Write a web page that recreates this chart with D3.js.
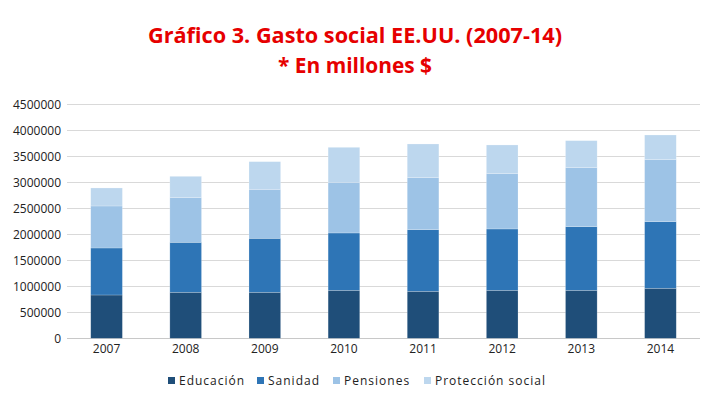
<!DOCTYPE html>
<html><head><meta charset="utf-8">
<script src="https://cdn.jsdelivr.net/npm/d3@7"></script>
<style>body{margin:0;background:#fff}svg{display:block}</style>
</head><body>
<div id="chart"></div>
<script>
const years = ["2007","2008","2009","2010","2011","2012","2013","2014"];
const seriesNames = ["Educación","Sanidad","Pensiones","Protección social"];
const educacion  = [833000, 885000, 885000, 923000, 904000, 923000, 923000, 962000];
const sanidad    = [904000, 961000, 1038000, 1103000, 1186000, 1180000, 1224000, 1282000];
const pensiones  = [808000, 859000, 942000, 974000, 1000000, 1064000, 1135000, 1192000];
const proteccion = [346000, 410000, 532000, 673000, 647000, 551000, 519000, 474000];
const yTicks = [0,500000,1000000,1500000,2000000,2500000,3000000,3500000,4000000,4500000];
const colors = ["#1F4E79","#2E75B6","#9DC3E6","#BDD7EE"];

const W=708,H=398;
const m={left:67,right:8,top:104,bottom:60};
const svg=d3.select("#chart").append("svg").attr("width",W).attr("height",H);
const font="'Open Sans', sans-serif";

const rows = years.map((y,i)=>({year:y,"Educación":educacion[i],"Sanidad":sanidad[i],"Pensiones":pensiones[i],"Protección social":proteccion[i]}));
const stacked = d3.stack().keys(seriesNames)(rows);

const x=d3.scaleBand().domain(years).range([m.left,W-m.right]).paddingInner(0.6).paddingOuter(0.3);
const y=d3.scaleLinear().domain([0,4500000]).range([338.3,104.3]);

// gridlines
svg.append("g").selectAll("line").data(yTicks).join("line")
  .attr("x1",m.left).attr("x2",W-m.right)
  .attr("y1",d=>Math.round(y(d))+0.5).attr("y2",d=>Math.round(y(d))+0.5)
  .attr("stroke",d=>d===0?"#C8C8C8":"#D9D9D9").attr("stroke-width",1);

// y labels
const yAxis=d3.axisLeft(y).tickValues(yTicks).tickFormat(d3.format("d")).tickSize(0).tickPadding(6);
const ga=svg.append("g").attr("transform",`translate(${m.left},0)`).call(yAxis);
ga.select(".domain").remove();
ga.selectAll("text").attr("font-family",font).attr("font-size","12px").attr("fill","#222");

// bars
svg.append("g").selectAll("g").data(stacked).join("g").attr("fill",(d,i)=>colors[i])
  .selectAll("rect").data(d=>d).join("rect")
  .attr("x",d=>x(d.data.year)).attr("width",x.bandwidth())
  .attr("y",d=>y(d[1])).attr("height",d=>y(d[0])-y(d[1]))
  .attr("stroke","#ffffff").attr("stroke-opacity",0.35).attr("stroke-width",0.6);

// x labels
const xAxis=d3.axisBottom(x).tickSize(0).tickPadding(6);
const gx=svg.append("g").attr("transform",`translate(0,338)`).call(xAxis);
gx.select(".domain").remove();
gx.selectAll("text").attr("font-family",font).attr("font-size","12px").attr("fill","#222");

// title
const t1=svg.append("text").attr("x",355).attr("y",43).attr("text-anchor","middle")
  .attr("font-family",font).attr("font-weight","bold").attr("font-size","22px").attr("fill","#E60000")
  .attr("textLength",414).attr("lengthAdjust","spacingAndGlyphs")
  .text("Gráfico 3. Gasto social EE.UU. (2007-14)");
svg.append("text").attr("x",355).attr("y",73).attr("text-anchor","middle")
  .attr("font-family",font).attr("font-weight","bold").attr("font-size","22px").attr("fill","#E60000")
  .attr("textLength",154).attr("lengthAdjust","spacingAndGlyphs")
  .text("* En millones $");

// legend
const legendX=[168,257,333,424];
const lg=svg.append("g").selectAll("g").data(seriesNames).join("g")
  .attr("transform",(d,i)=>`translate(${legendX[i]},0)`);
lg.append("rect").attr("x",0).attr("y",377).attr("width",7).attr("height",7).attr("fill",(d,i)=>colors[i]);
lg.append("text").attr("x",11).attr("y",385).attr("font-family",font).attr("font-size","12px")
  .attr("letter-spacing","1px").attr("fill","#222").text(d=>d);
</script>
</body></html>
